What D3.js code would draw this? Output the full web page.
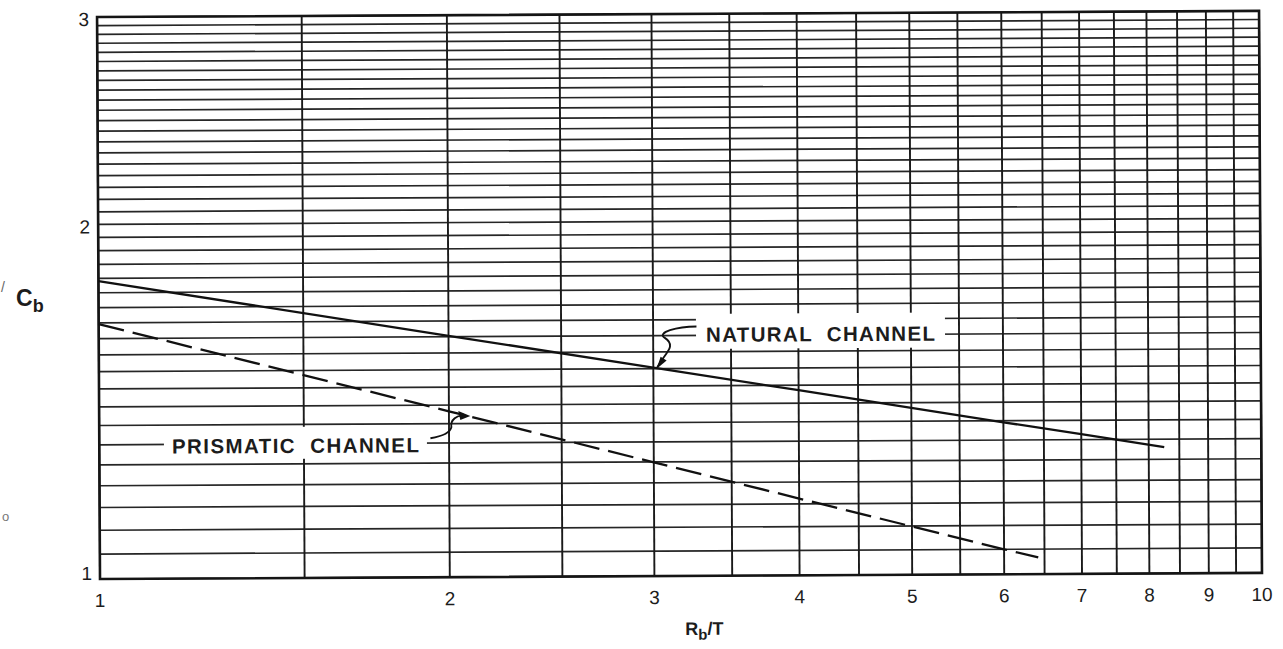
<!DOCTYPE html>
<html>
<head>
<meta charset="utf-8">
<script src="https://cdn.jsdelivr.net/npm/d3@7"></script>
<style>
  html, body { margin: 0; padding: 0; background: #fff; }
  svg { display: block; }
  text { font-family: "Liberation Sans", Arial, Helvetica, sans-serif; fill: #1c1c1c; }
</style>
</head>
<body>
<svg id="chart" width="1283" height="649"></svg>
<script>
// ---- data ----
const xTicks = [1, 2, 3, 4, 5, 6, 7, 8, 9, 10];
const yTicks = [1, 2, 3];
const xGridStep = 0.5;
const yGridStep = 0.05;

const naturalX = [1, 2, 3, 4, 5, 6, 7, 8.25];
const naturalY = [1.79, 1.603, 1.503, 1.436, 1.386, 1.346, 1.314, 1.28];

const prismaticX = [1, 2, 3, 4, 5, 6, 6.42];
const prismaticY = [1.646, 1.383, 1.249, 1.162, 1.099, 1.05, 1.033];

const labels = ["NATURAL  CHANNEL", "PRISMATIC  CHANNEL"];
const labelAnchorX = [4.18, 1.475];
const labelAnchorY = [1.58, 1.277];
const arrowTipX = [3.02, 2.07];
const arrowTipY = [1.50, 1.37];

const xAxisTitle = ["R", "b", "/T"];
const yAxisTitle = ["C", "b"];

// ---- layout ----
const L = 100, R = 1262, T = 17, B = 579;
const svg = d3.select("#chart");
const g = svg.append("g").attr("transform", `rotate(-0.3, ${L}, ${B})`);

const x = d3.scaleLog().domain([1, 10]).range([L, R]);
const y = d3.scaleLog().domain([1, 3]).range([B, T]);

const xGrid = d3.range(1, 10 + 1e-9, xGridStep);
const yGrid = d3.range(1, 3 + 1e-9, yGridStep);

// horizontal grid
g.append("g").selectAll("line").data(yGrid).join("line")
  .attr("x1", L).attr("x2", R)
  .attr("y1", d => y(d)).attr("y2", d => y(d))
  .attr("stroke", "#262626").attr("stroke-width", 1.7);

// vertical grid
g.append("g").selectAll("line").data(xGrid).join("line")
  .attr("x1", d => x(d)).attr("x2", d => x(d))
  .attr("y1", T).attr("y2", B)
  .attr("stroke", "#1a1a1a").attr("stroke-width", 1.9);

// frame
g.append("rect").attr("x", L).attr("y", T).attr("width", R - L).attr("height", B - T)
  .attr("fill", "none").attr("stroke", "#151515").attr("stroke-width", 2.6);

// label boxes (white masks)
const boxes = [
  { w: 249, h: 35, dy: -28 },
  { w: 263, h: 32, dy: -26 }
];
labels.forEach((t, i) => {
  const cx = x(labelAnchorX[i]), by = y(labelAnchorY[i]);
  g.append("rect").attr("x", cx - boxes[i].w / 2).attr("y", by + boxes[i].dy)
    .attr("width", boxes[i].w).attr("height", boxes[i].h).attr("fill", "#fff");
});

// curves
const line = d3.line().x(d => x(d[0])).y(d => y(d[1]));
g.append("path").datum(naturalX.map((v, i) => [v, naturalY[i]]))
  .attr("d", line).attr("fill", "none").attr("stroke", "#111").attr("stroke-width", 2.3);
g.append("path").datum(prismaticX.map((v, i) => [v, prismaticY[i]]))
  .attr("d", line).attr("fill", "none").attr("stroke", "#111").attr("stroke-width", 2.3)
  .attr("stroke-dasharray", "26,9");

// labels
const widths = [229, 247];
labels.forEach((t, i) => {
  g.append("text").attr("x", x(labelAnchorX[i])).attr("y", y(labelAnchorY[i]))
    .attr("text-anchor", "middle").attr("font-weight", "bold").attr("font-size", 20.5)
    .attr("textLength", widths[i]).attr("lengthAdjust", "spacing")
    .style("white-space", "pre")
    .text(t);
});

// leader lines
function leader(tx, ty, pts) {
  const p = d3.path();
  p.moveTo(tx + pts[0][0], ty + pts[0][1]);
  p.bezierCurveTo(tx + pts[1][0], ty + pts[1][1], tx + pts[2][0], ty + pts[2][1], tx + pts[3][0], ty + pts[3][1]);
  p.bezierCurveTo(tx + pts[4][0], ty + pts[4][1], tx + pts[5][0], ty + pts[5][1], tx, ty);
  return p.toString();
}
// natural
{
  const tx = x(arrowTipX[0]), ty = y(arrowTipY[0]);
  g.append("path").attr("d", leader(tx, ty, [[40, -42], [20, -42], [0, -36], [8, -31], [22, -22], [6, -14]]))
    .attr("fill", "none").attr("stroke", "#111").attr("stroke-width", 1.9);
  g.append("path").attr("d", `M${tx},${ty} L${tx + 4},${ty - 12} L${tx + 10},${ty - 8} Z`)
    .attr("fill", "#111");
}
// prismatic
{
  const tx = x(arrowTipX[1]), ty = y(arrowTipY[1]);
  g.append("path").attr("d", leader(tx, ty, [[-36, 22], [-24, 20], [-16, 16], [-15, 11], [-16, 4], [-10, -2]]))
    .attr("fill", "none").attr("stroke", "#111").attr("stroke-width", 1.9);
  g.append("path").attr("d", `M${tx + 4},${ty} L${tx - 8},${ty - 5} L${tx - 6},${ty + 4} Z`)
    .attr("fill", "#111");
}

// tick labels
g.append("g").selectAll("text").data(xTicks).join("text")
  .attr("x", d => x(d)).attr("y", B + 28)
  .attr("text-anchor", "middle").attr("font-size", 19)
  .text(d => d);
g.append("g").selectAll("text").data(yTicks).join("text")
  .attr("x", L - 8).attr("y", d => y(d) + (d === 1 ? 1 : 9))
  .attr("text-anchor", "end").attr("font-size", 19)
  .text(d => d);

// axis titles
const xt = g.append("text").attr("x", 685).attr("y", B + 59)
  .attr("font-weight", "bold").attr("font-size", 18);
xt.append("tspan").text(xAxisTitle[0]);
xt.append("tspan").attr("dy", 5).attr("font-size", 15).text(xAxisTitle[1]);
xt.append("tspan").attr("dy", -5).text(xAxisTitle[2]);

const yt = svg.append("text").attr("x", 16).attr("y", 306)
  .attr("font-weight", "bold").attr("font-size", 23);
yt.append("tspan").text(yAxisTitle[0]);
yt.append("tspan").attr("dy", 6).attr("font-size", 18).text(yAxisTitle[1]);

// stray scan marks
svg.append("text").attr("x", 1).attr("y", 292).attr("font-size", 14).style("fill", "#666").text("/");
svg.append("text").attr("x", 2).attr("y", 521).attr("font-size", 13).style("fill", "#777").text("o");
</script>
</body>
</html>
